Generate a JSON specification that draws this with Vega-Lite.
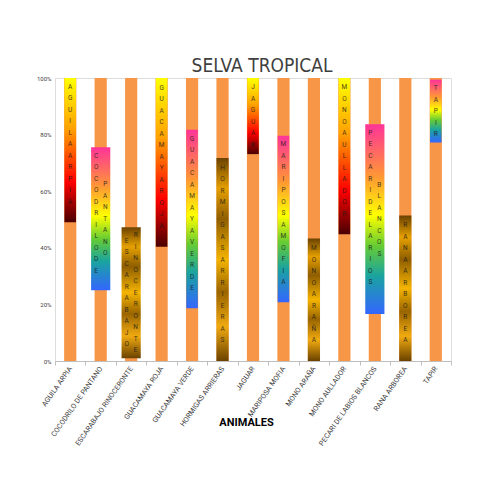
{
  "$schema": "https://vega.github.io/schema/vega-lite/v6.json",
  "width": 396,
  "height": 283,
  "autosize": {"type": "none"},
  "padding": {"left": 55, "top": 78, "right": 44, "bottom": 134},
  "background": "white",
  "title": {
    "text": "SELVA TROPICAL",
    "font": "'DejaVu Sans Condensed', Roboto",
    "fontSize": 19,
    "fontWeight": "normal",
    "color": "#3f3f3f",
    "anchor": "middle",
    "frame": "group",
    "dx": 9,
    "dy": 5,
    "offset": 4
  },
  "data": {
    "values": [
      {"animal": "AGUILA ARPIA", "inicio": 0.49, "fin": 1.0, "texto1": "AGUILA ARPIA", "texto2": ""},
      {"animal": "COCODRILO DE PANTANO", "inicio": 0.25, "fin": 0.755, "texto1": "COCODRILO DE", "texto2": "PANTANO"},
      {"animal": "ESCARABAJO RINOCERONTE", "inicio": 0.01, "fin": 0.473, "texto1": "ESCARABAJO", "texto2": "RINOCERONTE"},
      {"animal": "GUACAMAYA ROJA", "inicio": 0.404, "fin": 1.0, "texto1": "GUACAMAYA ROJA", "texto2": ""},
      {"animal": "GUACAMAYA VERDE", "inicio": 0.186, "fin": 0.817, "texto1": "GUACAMAYA VERDE", "texto2": ""},
      {"animal": "HORMIGAS ARRIERAS", "inicio": 0.0, "fin": 0.717, "texto1": "HORMIGAS ARRIERAS", "texto2": ""},
      {"animal": "JAGUAR", "inicio": 0.731, "fin": 1.0, "texto1": "JAGUAR", "texto2": ""},
      {"animal": "MARIPOSA MOFIA", "inicio": 0.208, "fin": 0.796, "texto1": "MARIPOSA MOFIA", "texto2": ""},
      {"animal": "MONO ARAÑA", "inicio": 0.0, "fin": 0.433, "texto1": "MONO ARAÑA", "texto2": ""},
      {"animal": "MONO AULLADOR", "inicio": 0.448, "fin": 1.0, "texto1": "MONO AULLADOR", "texto2": ""},
      {"animal": "PECARI DE LABIOS BLANCOS", "inicio": 0.166, "fin": 0.837, "texto1": "PECARI DE LARIOS", "texto2": "BLANCOS"},
      {"animal": "RANA ARBOREA", "inicio": 0.0, "fin": 0.514, "texto1": "RANA ARBOREA", "texto2": ""},
      {"animal": "TAPIR", "inicio": 0.772, "fin": 0.994, "texto1": "TAPIR", "texto2": ""}
    ]
  },
  "transform": [
    {"calculate": "split(datum.texto1, '')", "as": "letras1"},
    {"calculate": "split(datum.texto2, '')", "as": "letras2"},
    {"calculate": "(datum.inicio + datum.fin) / 2 + (length(datum.letras1) - 1) * 0.0406 / 2", "as": "pos1"},
    {"calculate": "(datum.inicio + datum.fin) / 2 + (length(datum.letras2) - 1) * 0.0406 / 2", "as": "pos2"}
  ],
  "encoding": {
    "x": {
      "field": "animal",
      "type": "nominal",
      "sort": null,
      "scale": {"paddingInner": 0, "paddingOuter": 0},
      "axis": {
        "title": "ANIMALES",
        "titleFont": "Roboto",
        "titleFontSize": 11,
        "titleFontWeight": "bold",
        "titleColor": "#000000",
        "titleX": 191,
        "titleY": 61,
        "titleAlign": "center",
        "titleBaseline": "middle",
        "labelAngle": -55,
        "labelFont": "Roboto",
        "labelFontSize": 7.2,
        "labelColor": "#404040",
        "labelPadding": 2,
        "tickBand": "extent",
        "tickSize": 4,
        "tickColor": "#bfbfbf",
        "domainColor": "#bfbfbf",
        "grid": false
      }
    }
  },
  "layer": [
    {
      "mark": {"type": "bar", "color": "#f79646", "width": {"band": 0.4}},
      "encoding": {
        "y": {
          "datum": 1,
          "type": "quantitative",
          "scale": {"domain": [0, 1], "nice": false},
          "axis": {
            "title": null,
            "format": ".0%",
            "values": [0, 0.1, 0.2, 0.3, 0.4, 0.5, 0.6, 0.7, 0.8, 0.9, 1],
            "labelFont": "Roboto",
            "labelFontSize": 6,
            "labelColor": "#404040",
            "labelPadding": 4,
            "domain": false,
            "ticks": false,
            "gridColor": "#d0d0d0",
            "gridWidth": 1
          }
        }
      }
    },
    {
      "transform": [{"filter": {"field": "animal", "oneOf": ["AGUILA ARPIA", "GUACAMAYA ROJA", "JAGUAR", "MONO AULLADOR"]}}],
      "mark": {
        "type": "bar",
        "width": {"band": 0.38},
        "color": {
          "gradient": "linear", "x1": 0, "y1": 0, "x2": 0, "y2": 1,
          "stops": [
            {"offset": 0, "color": "#ffff00"},
            {"offset": 0.35, "color": "#ffa200"},
            {"offset": 0.72, "color": "#ff0000"},
            {"offset": 1, "color": "#4a0000"}
          ]
        }
      },
      "encoding": {"y": {"field": "inicio", "type": "quantitative"}, "y2": {"field": "fin"}}
    },
    {
      "transform": [
        {"filter": {"field": "animal", "oneOf": ["COCODRILO DE PANTANO", "GUACAMAYA VERDE", "MARIPOSA MOFIA", "PECARI DE LABIOS BLANCOS", "TAPIR"]}},
        {"filter": "datum.texto2 == ''"}
      ],
      "mark": {
        "type": "bar",
        "width": {"band": 0.38},
        "color": {
          "gradient": "linear", "x1": 0, "y1": 0, "x2": 0, "y2": 1,
          "stops": [
            {"offset": 0, "color": "#ff3399"},
            {"offset": 0.28, "color": "#ff9933"},
            {"offset": 0.48, "color": "#ffff00"},
            {"offset": 0.64, "color": "#66cc33"},
            {"offset": 0.8, "color": "#1aa3a0"},
            {"offset": 1, "color": "#3366ff"}
          ]
        }
      },
      "encoding": {"y": {"field": "inicio", "type": "quantitative"}, "y2": {"field": "fin"}}
    },
    {
      "transform": [
        {"filter": {"field": "animal", "oneOf": ["COCODRILO DE PANTANO", "GUACAMAYA VERDE", "MARIPOSA MOFIA", "PECARI DE LABIOS BLANCOS", "TAPIR"]}},
        {"filter": "datum.texto2 != ''"}
      ],
      "mark": {
        "type": "bar",
        "width": {"band": 0.63},
        "color": {
          "gradient": "linear", "x1": 0, "y1": 0, "x2": 0, "y2": 1,
          "stops": [
            {"offset": 0, "color": "#ff3399"},
            {"offset": 0.28, "color": "#ff9933"},
            {"offset": 0.48, "color": "#ffff00"},
            {"offset": 0.64, "color": "#66cc33"},
            {"offset": 0.8, "color": "#1aa3a0"},
            {"offset": 1, "color": "#3366ff"}
          ]
        }
      },
      "encoding": {"y": {"field": "inicio", "type": "quantitative"}, "y2": {"field": "fin"}}
    },
    {
      "transform": [
        {"filter": {"field": "animal", "oneOf": ["ESCARABAJO RINOCERONTE", "HORMIGAS ARRIERAS", "MONO ARAÑA", "RANA ARBOREA"]}},
        {"filter": "datum.texto2 == ''"}
      ],
      "mark": {
        "type": "bar",
        "width": {"band": 0.4},
        "color": {
          "gradient": "linear", "x1": 0, "y1": 0, "x2": 0, "y2": 1,
          "stops": [
            {"offset": 0, "color": "#6b4200"},
            {"offset": 0.15, "color": "#e5a000"},
            {"offset": 0.3, "color": "#8f5e00"},
            {"offset": 0.5, "color": "#f4b400"},
            {"offset": 0.66, "color": "#9a6500"},
            {"offset": 0.83, "color": "#f0aa10"},
            {"offset": 1, "color": "#6b4200"}
          ]
        }
      },
      "encoding": {"y": {"field": "inicio", "type": "quantitative"}, "y2": {"field": "fin"}}
    },
    {
      "transform": [
        {"filter": {"field": "animal", "oneOf": ["ESCARABAJO RINOCERONTE", "HORMIGAS ARRIERAS", "MONO ARAÑA", "RANA ARBOREA"]}},
        {"filter": "datum.texto2 != ''"}
      ],
      "mark": {
        "type": "bar",
        "width": {"band": 0.63},
        "color": {
          "gradient": "linear", "x1": 0, "y1": 0, "x2": 0, "y2": 1,
          "stops": [
            {"offset": 0, "color": "#6b4200"},
            {"offset": 0.15, "color": "#e5a000"},
            {"offset": 0.3, "color": "#8f5e00"},
            {"offset": 0.5, "color": "#f4b400"},
            {"offset": 0.66, "color": "#9a6500"},
            {"offset": 0.83, "color": "#f0aa10"},
            {"offset": 1, "color": "#6b4200"}
          ]
        }
      },
      "encoding": {"y": {"field": "inicio", "type": "quantitative"}, "y2": {"field": "fin"}}
    },
    {
      "transform": [{"filter": "datum.texto2 == ''"}],
      "mark": {"type": "text", "font": "Roboto", "fontSize": 6.5, "lineHeight": 11.5, "baseline": "middle", "align": "center", "color": "#1a1a1a", "opacity": 0.8},
      "encoding": {"y": {"field": "pos1", "type": "quantitative"}, "text": {"field": "letras1"}}
    },
    {
      "transform": [{"filter": "datum.texto2 != ''"}],
      "mark": {"type": "text", "font": "Roboto", "fontSize": 6.5, "lineHeight": 11.5, "baseline": "middle", "align": "center", "xOffset": -4.5, "color": "#1a1a1a", "opacity": 0.8},
      "encoding": {"y": {"field": "pos1", "type": "quantitative"}, "text": {"field": "letras1"}}
    },
    {
      "transform": [{"filter": "datum.texto2 != ''"}],
      "mark": {"type": "text", "font": "Roboto", "fontSize": 6.5, "lineHeight": 11.5, "baseline": "middle", "align": "center", "xOffset": 4.5, "color": "#1a1a1a", "opacity": 0.8},
      "encoding": {"y": {"field": "pos2", "type": "quantitative"}, "text": {"field": "letras2"}}
    }
  ]
}
